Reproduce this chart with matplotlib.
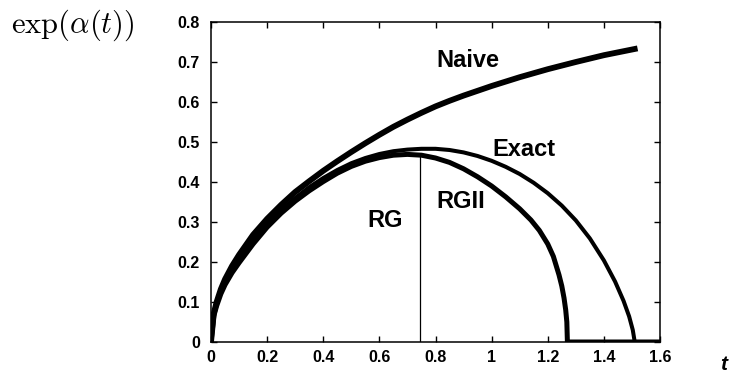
import matplotlib
matplotlib.use("Agg")
import matplotlib.pyplot as plt

# curves (t, exp(alpha(t)))
naive_t = [0, 0.01, 0.02, 0.035, 0.05, 0.075, 0.1, 0.15, 0.2, 0.25, 0.3, 0.35, 0.4, 0.45,
           0.5, 0.55, 0.6, 0.65, 0.7, 0.75, 0.8, 0.85, 0.9, 0.95, 1.0, 1.1, 1.2, 1.3, 1.4, 1.52]
naive_v = [0, 0.072, 0.1, 0.132, 0.157, 0.19, 0.218, 0.268, 0.308, 0.343, 0.375, 0.402, 0.428,
           0.452, 0.475, 0.497, 0.518, 0.538, 0.556, 0.573, 0.589, 0.603, 0.616, 0.628, 0.640,
           0.662, 0.682, 0.700, 0.717, 0.734]

exact_t = [0, 0.01, 0.02, 0.035, 0.05, 0.075, 0.1, 0.15, 0.2, 0.25, 0.3, 0.35, 0.4, 0.45, 0.5,
           0.55, 0.6, 0.65, 0.7, 0.75, 0.8, 0.85, 0.9, 0.95, 1.0, 1.05, 1.1, 1.15, 1.2, 1.25,
           1.3, 1.35, 1.4, 1.44, 1.47, 1.49, 1.503, 1.51, 1.6]
exact_v = [0, 0.07, 0.095, 0.125, 0.15, 0.18, 0.205, 0.252, 0.295, 0.33, 0.36, 0.387, 0.41,
           0.43, 0.447, 0.46, 0.47, 0.477, 0.481, 0.483, 0.483, 0.480, 0.474, 0.465, 0.453,
           0.438, 0.42, 0.398, 0.372, 0.341, 0.304, 0.259, 0.204, 0.151, 0.103, 0.064, 0.03,
           0.0, 0.0]

rg_t = [0, 0.01, 0.02, 0.035, 0.05, 0.075, 0.1, 0.15, 0.2, 0.25, 0.3, 0.35, 0.4, 0.45, 0.5,
        0.55, 0.6, 0.65, 0.7, 0.75, 0.8, 0.85, 0.9, 0.95, 1.0, 1.05, 1.1, 1.14, 1.17, 1.2,
        1.22, 1.24, 1.25, 1.258, 1.264, 1.268, 1.27, 1.6]
rg_v = [0, 0.065, 0.09, 0.12, 0.143, 0.173, 0.198, 0.245, 0.287, 0.322, 0.352, 0.378, 0.401,
        0.422, 0.439, 0.452, 0.461, 0.467, 0.469, 0.467, 0.46, 0.449, 0.433, 0.413, 0.39,
        0.363, 0.333, 0.305, 0.279, 0.245, 0.214, 0.168, 0.14, 0.11, 0.08, 0.05, 0.0, 0.0]

# boundary between RG and RGII regions
split_t = 0.745
split_top = 0.464

x_ticks = [0, 0.2, 0.4, 0.6, 0.8, 1, 1.2, 1.4, 1.6]
x_labels = ["0", "0.2", "0.4", "0.6", "0.8", "1", "1.2", "1.4", "1.6"]
y_ticks = [0, 0.1, 0.2, 0.3, 0.4, 0.5, 0.6, 0.7, 0.8]
y_labels = ["0", "0.1", "0.2", "0.3", "0.4", "0.5", "0.6", "0.7", "0.8"]

plt.rcParams['font.family'] = ['Liberation Sans', 'DejaVu Sans']
plt.rcParams['mathtext.fontset'] = 'cm'

fig = plt.figure(figsize=(7.3, 3.76), dpi=100)
ax = fig.add_axes([211 / 730, 34 / 376, 449 / 730, 320 / 376])

ax.plot(naive_t, naive_v, color='black', lw=4.2, solid_capstyle='butt', solid_joinstyle='round')
ax.plot(exact_t, exact_v, color='black', lw=2.9, solid_capstyle='butt', solid_joinstyle='round')
ax.plot(rg_t, rg_v, color='black', lw=3.6, solid_capstyle='butt', solid_joinstyle='round')
ax.plot([split_t, split_t], [0, split_top], color='black', lw=0.9)

ax.set_xlim(0, 1.6)
ax.set_ylim(0, 0.8)
ax.set_xticks(x_ticks)
ax.set_xticklabels(x_labels)
ax.set_yticks(y_ticks)
ax.set_yticklabels(y_labels)
ax.tick_params(direction='in', top=True, right=True, length=4, width=1.0, labelsize=11.5)
ax.tick_params(axis='x', pad=6)
ax.tick_params(axis='y', pad=8)
for lab in ax.get_xticklabels() + ax.get_yticklabels():
    lab.set_fontweight('bold')
for sp in ax.spines.values():
    sp.set_linewidth(1.1)

# curve labels
lbl = dict(fontsize=17, fontweight='bold', ha='center', va='center')
ax.text(0.914, 0.704, "Naive", **lbl)
ax.text(1.115, 0.482, "Exact", **lbl)
ax.text(0.619, 0.303, "RG", **lbl)
ax.text(0.891, 0.351, "RGII", **lbl)

fig.text(73 / 730, 1 - 25 / 376, r"$\exp(\alpha(t))$", fontsize=22, ha='center', va='center')
fig.text(724 / 730, 1 - 364 / 376, "t", fontsize=15, fontweight='bold', style='italic',
         ha='center', va='center')

fig.savefig("out.png", dpi=100)
